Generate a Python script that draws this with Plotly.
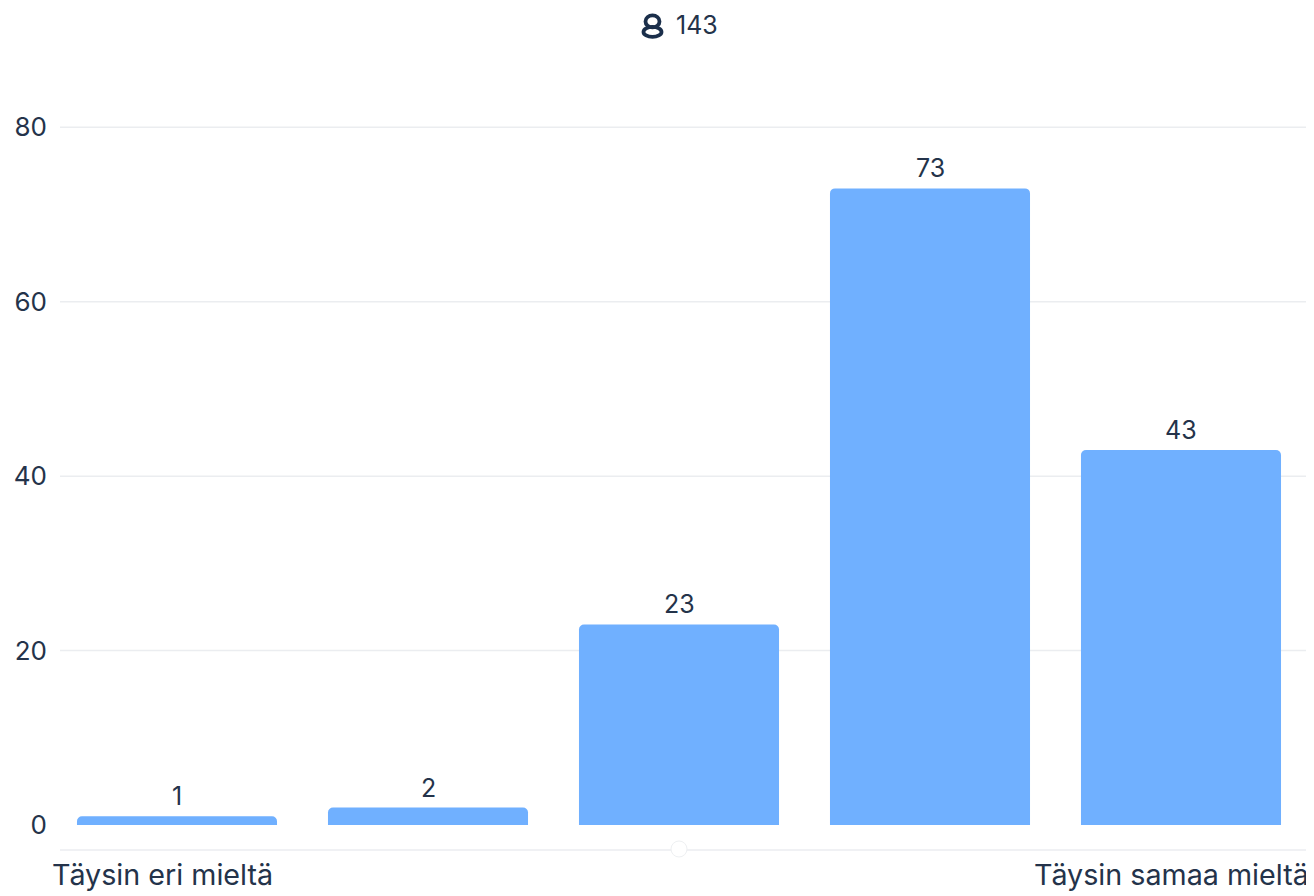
import plotly.graph_objects as go

categories = [0, 1, 2, 3, 4]
values = [1, 2, 23, 73, 43]
y_ticks = [0, 20, 40, 60, 80]
respondents = "143"
left_label = "Täysin eri mieltä"
right_label = "Täysin samaa mieltä"

# The page body has an 8px margin, so the figure is placed 8px in from the window corner.
OFF = 8
W, H = 1314 - OFF, 896 - OFF
Y_TOP = 80.5
UNIT = 8.725
L, R, B = 60 - OFF, 1309 - OFF, 850 - OFF
T = 127 - OFF - (Y_TOP - 80) * UNIT
TEXT = "#24334a"
LINE = "#ebedf0"
FONT = "Inter"


def px(x):
    return (x - OFF - L) / (R - L)


def py(y):
    return (B - (y - OFF)) / (B - T)


fig = go.Figure(
    go.Bar(
        x=categories,
        y=values,
        width=0.797,
        marker=dict(color="#70b0ff", line=dict(width=0), cornerradius=5),
        hoverinfo="skip",
    )
)

shapes = [
    # gridlines above the baseline only
    dict(type="line", xref="paper", yref="y", x0=0, x1=1, y0=t, y1=t,
         line=dict(color=LINE, width=1.5), layer="below")
    for t in y_ticks if t > 0
] + [
    # axis line
    dict(type="line", xref="paper", yref="paper", x0=0, x1=1, y0=0, y1=0,
         line=dict(color=LINE, width=1.5), layer="below"),
    # axis marker dot
    dict(type="circle", xref="paper", yref="paper",
         x0=px(671), x1=px(687), y0=py(857), y1=py(841),
         fillcolor="#ffffff", line=dict(color="#eef0f2", width=1), layer="above"),
    # person icon: head
    dict(type="circle", xref="paper", yref="paper",
         x0=px(645.5), x1=px(659.5), y0=py(27), y1=py(15),
         fillcolor="rgba(0,0,0,0)", line=dict(color="#1b2f4b", width=3.8), layer="above"),
    # person icon: body
    dict(type="circle", xref="paper", yref="paper",
         x0=px(643.5), x1=px(661.5), y0=py(36.5), y1=py(26.5),
         fillcolor="rgba(0,0,0,0)", line=dict(color="#1b2f4b", width=3.8), layer="above"),
]

annotations = [
    dict(text=str(v), x=c, y=v, xref="x", yref="y", xanchor="center", yanchor="bottom",
         yshift=3, showarrow=False, font=dict(family=FONT, size=25, color=TEXT))
    for c, v in zip(categories, values)
] + [
    dict(text=respondents, xref="paper", yref="paper", x=px(673.5), y=py(24.5),
         xanchor="left", yanchor="middle", showarrow=False,
         font=dict(family=FONT, size=25, color=TEXT)),
    dict(text=left_label, xref="paper", yref="paper", x=px(49.5), y=py(875),
         xanchor="left", yanchor="middle", showarrow=False,
         font=dict(family=FONT, size=28.7, color=TEXT)),
    dict(text=right_label, xref="paper", yref="paper", x=px(1311), y=py(875),
         xanchor="right", yanchor="middle", showarrow=False,
         font=dict(family=FONT, size=28.7, color=TEXT)),
]

fig.update_layout(
    width=W,
    height=H,
    margin=dict(l=L, r=W - R, t=T, b=H - B, pad=0),
    paper_bgcolor="#ffffff",
    plot_bgcolor="#ffffff",
    showlegend=False,
    shapes=shapes,
    annotations=annotations,
    xaxis=dict(
        range=[(60 - 177) / 251, (1309 - 177) / 251],
        showgrid=False, zeroline=False, showticklabels=False, ticks="",
        showline=False,
        fixedrange=True,
    ),
    yaxis=dict(
        range=[-(850 - 825) / UNIT, Y_TOP],
        tickvals=y_ticks,
        tickfont=dict(family=FONT, size=26, color=TEXT),
        showgrid=False,
        zeroline=False, showline=False, ticks="",
        ticklabelstandoff=12,
        fixedrange=True,
    ),
)

fig.write_html("out.html", config={"displayModeBar": False})
